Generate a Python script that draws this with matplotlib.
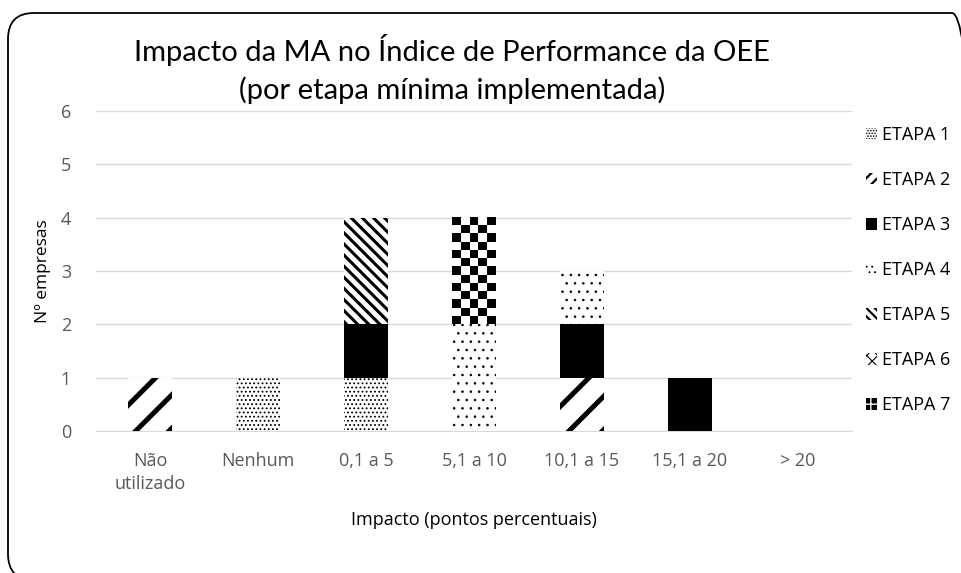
import matplotlib
matplotlib.use('Agg')
import matplotlib.pyplot as plt
import numpy as np
from matplotlib.patches import Patch, FancyBboxPatch
from matplotlib.transforms import IdentityTransform

categorias = ['Não\nutilizado', 'Nenhum', '0,1 a 5', '5,1 a 10', '10,1 a 15', '15,1 a 20', '> 20']
etapas = ['ETAPA 1', 'ETAPA 2', 'ETAPA 3', 'ETAPA 4', 'ETAPA 5', 'ETAPA 6', 'ETAPA 7']

etapa1 = [0, 1, 1, 0, 0, 0, 0]
etapa2 = [1, 0, 0, 0, 1, 0, 0]
etapa3 = [0, 0, 1, 0, 1, 1, 0]
etapa4 = [0, 0, 0, 2, 1, 0, 0]
etapa5 = [0, 0, 2, 0, 0, 0, 0]
etapa6 = [0, 0, 0, 0, 0, 0, 0]
etapa7 = [0, 0, 0, 2, 0, 0, 0]

series = [etapa1, etapa2, etapa3, etapa4, etapa5, etapa6, etapa7]
# (hatch barra, facecolor, hatch linewidth, hatch legenda)
estilos = [('....', 'white', 0.8, '......'),
           ('/', 'white', 3.6, '///'),
           ('', 'black', 1.0, ''),
           ('..', 'white', 0.6, '...'),
           ('\\\\\\', 'white', 2.2, '\\\\\\\\'),
           ('x', 'white', 0.8, 'xxx'),
           (None, 'black', 1.0, '++')]

cinza = '#595959'

fig = plt.figure(figsize=(9.62, 5.73), dpi=100)
ax = fig.add_axes([96/962, 1-431/573, 756/962, 320/573])

x = np.arange(len(categorias))
largura = 0.4
base = np.zeros(len(categorias))
handles = []
larguras_hatch = []
for nome, vals, (hatch, fc, hlw, hleg) in zip(etapas, series, estilos):
    vals = np.array(vals, dtype=float)
    with plt.rc_context({'hatch.linewidth': hlw, 'hatch.color': 'black'}):
        if hatch is None:
            # xadrez (ETAPA 7) desenhado como imagem dentro da barra
            barras = ax.bar(x, vals, largura, bottom=base, color='none', linewidth=0, zorder=3)
            for b in barras:
                if b.get_height() <= 0:
                    continue
                x0, y0 = b.get_x(), b.get_y()
                w, h = b.get_width(), b.get_height()
                ncol = 5
                nrow = int(round(h * 6.3))
                xadrez = (np.indices((nrow, ncol)).sum(axis=0) % 2)
                ax.imshow(xadrez, cmap='gray', extent=[x0, x0 + w, y0, y0 + h],
                          aspect='auto', interpolation='nearest', zorder=3)
            handles.append(Patch(facecolor='black', edgecolor='white', hatch=hleg, linewidth=0))
        else:
            barras = ax.bar(x, vals, largura, bottom=base, color=fc, hatch=hatch,
                            edgecolor='black', linewidth=0, zorder=3)
            handles.append(Patch(facecolor=fc, edgecolor='black', hatch=hleg, linewidth=0))
    larguras_hatch.append(hlw)
    base = base + vals

ax.set_xlim(-0.5, len(categorias) - 0.5)
ax.set_ylim(0, 6)
ax.set_aspect('auto')
ax.set_yticks(range(0, 7))
ax.set_xticks(x)
ax.set_xticklabels(categorias, fontfamily='Open Sans', fontsize=13, color=cinza, linespacing=1.4)
for t in ax.get_yticklabels():
    t.set_fontfamily('Open Sans')
    t.set_fontsize(13)
    t.set_color(cinza)
ax.tick_params(axis='x', length=0, pad=15)
ax.tick_params(axis='y', length=0, pad=18)
ax.grid(axis='y', color='#d9d9d9', linewidth=1, zorder=0)
for s in ['top', 'right', 'left']:
    ax.spines[s].set_visible(False)
ax.spines['bottom'].set_color('#d9d9d9')

ax.set_ylabel('Nº empresas', fontfamily='Open Sans', fontsize=12.5, color='black', labelpad=7)
ax.set_xlabel('Impacto (pontos percentuais)', fontfamily='Open Sans', fontsize=13,
              color='black', labelpad=13)

fig.text(452/962, 1-50/573, 'Impacto da MA no Índice de Performance da OEE',
         ha='center', va='center', fontfamily='Lato', fontsize=21, color='black')
fig.text(452/962, 1-90/573, '(por etapa mínima implementada)',
         ha='center', va='center', fontfamily='Lato', fontsize=21, color='black')

leg = fig.legend(handles, etapas, loc='upper left', bbox_to_anchor=(866/962, 1-126/573),
                 frameon=False, prop={'family': 'Open Sans', 'size': 13},
                 handlelength=0.6, handleheight=0.6, handletextpad=0.3,
                 labelspacing=1.5, borderaxespad=0, borderpad=0)
for t in leg.get_texts():
    t.set_color('black')
for p, hlw in zip(leg.legend_handles, larguras_hatch):
    if hasattr(p, 'set_hatch_linewidth'):
        p.set_hatch_linewidth(min(hlw, 1.6))

# moldura arredondada, sai da imagem à direita e em baixo
borda = FancyBboxPatch((8, -7), 970, 567, boxstyle='round,pad=0,rounding_size=26',
                       transform=IdentityTransform(), facecolor='none',
                       edgecolor='black', linewidth=1.3)
fig.add_artist(borda)

fig.savefig('out.png', dpi=100)
